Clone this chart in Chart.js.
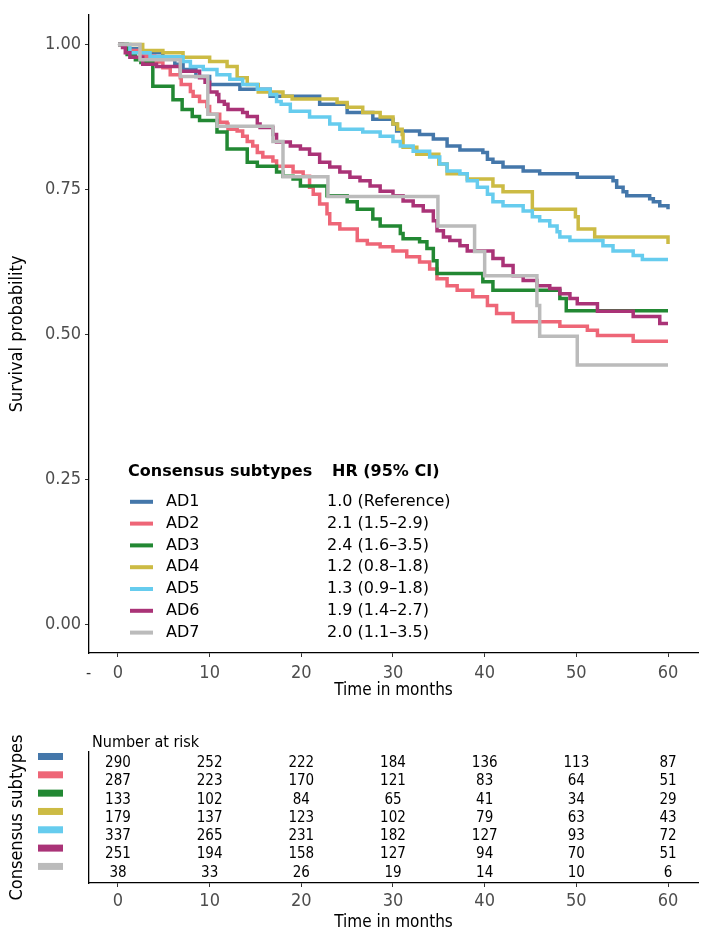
<!DOCTYPE html>
<html>
<head>
<meta charset="utf-8">
<script src="https://cdn.jsdelivr.net/npm/chart.js@4.4.1/dist/chart.umd.min.js"></script>
<style>
  html, body { margin: 0; padding: 0; background: #fff; }
  .box { position: absolute; left: 0; }
</style>
</head>
<body>
<div class="box" style="top:0"><canvas id="km" width="709" height="710"></canvas></div>
<div class="box" style="top:710px"><canvas id="risk" width="709" height="235"></canvas></div>
<script>
// groups and legend text
const groups = ['AD1', 'AD2', 'AD3', 'AD4', 'AD5', 'AD6', 'AD7'];
const hazardRatios = ['1.0 (Reference)', '2.1 (1.5–2.9)', '2.4 (1.6–3.5)', '1.2 (0.8–1.8)',
                      '1.3 (0.9–1.8)', '1.9 (1.4–2.7)', '2.0 (1.1–3.5)'];
const timeTicks = [0, 10, 20, 30, 40, 50, 60];
const survTicks = [0, 0.25, 0.5, 0.75, 1];

// Kaplan-Meier curves (time of each drop, survival after it)
const ad1Time = [0, 1, 2.4, 4.9, 6.2, 7.1, 8.5, 10, 13.3, 16.6, 22, 25, 27.8, 30, 30.4, 32.9, 34.4, 35.9, 37.3, 39.8,
                 40.3, 40.9, 42, 44.2, 46, 50.1, 54, 54.4, 55.1, 55.5, 58, 58.4, 59.1, 60];
const ad1Surv = [1, 0.993, 0.986, 0.979, 0.966, 0.957, 0.945, 0.931, 0.923, 0.911, 0.897, 0.883, 0.871, 0.863, 0.851, 0.845, 0.837, 0.825, 0.818, 0.814,
                 0.802, 0.797, 0.789, 0.782, 0.777, 0.771, 0.765, 0.754, 0.746, 0.739, 0.734, 0.729, 0.722, 0.716];

const ad2Time = [0, 1, 2.5, 4, 4.9, 5.7, 6.8, 6.9, 7.9, 8.2, 8.9, 9.7, 10, 11.1, 11.9, 12, 13, 13.6, 14.1, 14.7,
                 15.2, 15.8, 16.9, 17.3, 19.1, 20.2, 20.9, 21.3, 22, 22.8, 23.1, 24.2, 26.1, 27.2, 28.6, 30, 31.5, 32.9, 34, 34.8,
                 35.9, 37, 38.7, 40.3, 41.3, 43.1, 48.2, 51.2, 52.3, 56.2, 60];
const ad2Surv = [1, 0.99, 0.98, 0.97, 0.96, 0.948, 0.943, 0.931, 0.919, 0.911, 0.902, 0.893, 0.88, 0.866, 0.863, 0.854, 0.851, 0.842, 0.833, 0.825,
                 0.814, 0.806, 0.799, 0.79, 0.78, 0.773, 0.754, 0.742, 0.725, 0.708, 0.691, 0.682, 0.662, 0.656, 0.651, 0.644, 0.634, 0.625, 0.613, 0.596,
                 0.584, 0.576, 0.565, 0.55, 0.536, 0.522, 0.514, 0.507, 0.498, 0.488, 0.488];

const ad3Time = [0, 1, 1.9, 2.5, 3.8, 6, 7, 8.1, 8.9, 10.8, 11.9, 14.1, 15.2, 17.3, 18, 19.1, 19.9, 22.8, 25, 26.1,
                 27.8, 28.6, 30.8, 31.1, 32.9, 33.7, 34.4, 34.8, 39.8, 40.9, 48.2, 48.9, 60];
const ad3Surv = [1, 0.983, 0.974, 0.969, 0.928, 0.905, 0.888, 0.876, 0.869, 0.849, 0.82, 0.797, 0.79, 0.78, 0.773, 0.768, 0.756, 0.739, 0.729, 0.716,
                 0.699, 0.687, 0.674, 0.665, 0.66, 0.648, 0.627, 0.605, 0.591, 0.576, 0.562, 0.541, 0.541];

const ad4Time = [0, 2.7, 4.9, 7.1, 10, 11.9, 13, 14.1, 15.3, 18, 19, 23.9, 25, 26.7, 28.6, 30, 30.5, 31, 31.1, 32.6,
                 35, 35.9, 38.1, 40.9, 42, 45.2, 49.9, 50.2, 52, 60];
const ad4Surv = [1, 0.99, 0.986, 0.978, 0.971, 0.962, 0.943, 0.931, 0.918, 0.911, 0.906, 0.9, 0.892, 0.883, 0.875, 0.863, 0.854, 0.845, 0.823, 0.811,
                 0.794, 0.777, 0.768, 0.756, 0.746, 0.716, 0.703, 0.682, 0.668, 0.656];

const ad5Time = [0, 1.3, 3.5, 7.1, 7.9, 9.3, 10.8, 12.2, 13.6, 15.2, 16.6, 17.3, 17.8, 18.8, 20.9, 23.1, 24.2, 26.7, 28.6, 30,
                 30.8, 32.2, 34, 35.1, 35.9, 37.3, 38.1, 39.2, 40.3, 40.9, 42, 44.2, 45.2, 46, 47.1, 47.9, 48.2, 49.3, 52.9, 54,
                 56.2, 57.2, 60];
const ad5Surv = [1, 0.986, 0.979, 0.971, 0.962, 0.957, 0.948, 0.94, 0.931, 0.923, 0.914, 0.902, 0.897, 0.885, 0.875, 0.863, 0.854, 0.849, 0.842, 0.833,
                 0.825, 0.816, 0.806, 0.794, 0.782, 0.777, 0.765, 0.754, 0.742, 0.729, 0.722, 0.713, 0.703, 0.696, 0.687, 0.677, 0.668, 0.662, 0.653, 0.644,
                 0.636, 0.629, 0.629];

const ad6Time = [0, 0.5, 0.8, 1.3, 2.7, 4.2, 6.8, 8.9, 9.5, 10, 10.8, 11, 11.6, 12, 13.6, 14.1, 15.2, 15.5, 16.9, 17.3,
                 18.8, 19.9, 20.9, 22, 23.1, 24.2, 25.3, 26.4, 27.5, 28.6, 30, 31.1, 32.2, 33.3, 34.4, 34.8, 35.5, 36.2, 37.3, 38.1,
                 40.9, 42, 43.1, 44.2, 45.7, 47.1, 48.2, 49.3, 50.1, 52.3, 56.2, 59.1, 60];
const ad6Surv = [1, 0.995, 0.986, 0.978, 0.966, 0.962, 0.954, 0.943, 0.935, 0.918, 0.914, 0.902, 0.897, 0.888, 0.883, 0.876, 0.863, 0.857, 0.845, 0.832,
                 0.825, 0.82, 0.811, 0.797, 0.789, 0.78, 0.771, 0.765, 0.756, 0.747, 0.739, 0.73, 0.722, 0.713, 0.696, 0.679, 0.668, 0.662, 0.653, 0.644,
                 0.631, 0.619, 0.601, 0.593, 0.584, 0.579, 0.57, 0.562, 0.553, 0.54, 0.531, 0.519, 0.519];

const ad7Time = [0, 2.4, 6.8, 9.8, 10.8, 16.9, 18, 22.9, 34.9, 38.9, 40, 45.7, 46, 50.1, 60];
const ad7Surv = [1, 0.974, 0.945, 0.88, 0.859, 0.833, 0.772, 0.738, 0.687, 0.643, 0.601, 0.55, 0.497, 0.447, 0.447];

// number at risk at 0, 10, ... 60 months
const risk1 = [290, 252, 222, 184, 136, 113, 87];
const risk2 = [287, 223, 170, 121, 83, 64, 51];
const risk3 = [133, 102, 84, 65, 41, 34, 29];
const risk4 = [179, 137, 123, 102, 79, 63, 43];
const risk5 = [337, 265, 231, 182, 127, 93, 72];
const risk6 = [251, 194, 158, 127, 94, 70, 51];
const risk7 = [38, 33, 26, 19, 14, 10, 6];

const colors = ['#4477AA', '#EE6677', '#228833', '#CCBB44', '#66CCEE', '#AA3377', '#BBBBBB'];
const FONT = "'DejaVu Sans Condensed', 'DejaVu Sans', sans-serif";
const LEGEND_FONT = "'DejaVu Sans', sans-serif";

const kmTimes = [ad1Time, ad2Time, ad3Time, ad4Time, ad5Time, ad6Time, ad7Time];
const kmSurv = [ad1Surv, ad2Surv, ad3Surv, ad4Surv, ad5Surv, ad6Surv, ad7Surv];
const riskRows = [risk1, risk2, risk3, risk4, risk5, risk6, risk7];

Chart.defaults.font.family = FONT;

// x range so that 0 lands at x=118 and 60 at x=668
const xMin = -3.16, xMax = 63.27;

function xAxis(height, tickPad, titleBottom) {
    return {
        type: 'linear', min: xMin, max: xMax,
        afterBuildTicks: s => { s.ticks = timeTicks.map(v => ({ value: v })); },
        afterFit: s => { s.height = height; },
        grid: { drawOnChartArea: false, drawTicks: true, tickLength: 4, tickColor: '#333', tickWidth: 1 },
        border: { display: true, color: '#000', width: 1.3 },
        ticks: { color: '#4d4d4d', font: { size: 18 }, padding: tickPad, maxRotation: 0, autoSkip: false },
        title: { display: true, text: 'Time in months', color: '#000', font: { size: 17 }, padding: { top: 0, bottom: titleBottom } }
    };
}

// legend with hazard ratios, drawn inside the plot
const kmLegend = {
    id: 'kmLegend',
    afterDraw(chart) {
        const { ctx, chartArea: a } = chart;
        ctx.save();
        ctx.textBaseline = 'middle';
        ctx.fillStyle = '#000';
        ctx.font = 'bold 16px ' + LEGEND_FONT;
        ctx.fillText('Consensus subtypes', a.left + 39, a.top + 457);
        ctx.fillText('HR (95% CI)', a.left + 243, a.top + 457);
        ctx.font = '16px ' + LEGEND_FONT;
        groups.forEach((g, i) => {
            const y = a.top + 487 + i * 21.8;
            ctx.fillStyle = colors[i];
            ctx.fillRect(a.left + 41, y - 2, 23, 4);
            ctx.fillStyle = '#000';
            ctx.fillText(g, a.left + 77, y);
            ctx.fillText(hazardRatios[i], a.left + 238, y);
        });
        // stray mark left of the x tick labels
        ctx.fillStyle = '#333';
        ctx.font = '16px ' + FONT;
        ctx.fillText('-', a.left - 3, a.bottom + 21);
        ctx.restore();
    }
};

new Chart(document.getElementById('km'), {
    type: 'line',
    data: {
        datasets: groups.map((g, i) => ({
            label: g,
            data: kmTimes[i].map((t, j) => ({ x: t, y: kmSurv[i][j] })),
            borderColor: colors[i],
            borderWidth: 3.5,
            pointRadius: 0,
            stepped: 'before',
            fill: false,
            order: groups.length - i
        }))
    },
    options: {
        responsive: false,
        animation: false,
        layout: { padding: { top: 10, right: 11, left: 0, bottom: 0 } },
        plugins: { legend: { display: false }, tooltip: { enabled: false } },
        scales: {
            x: xAxis(57, 6, 9),
            y: {
                type: 'linear', min: -0.0497, max: 1.0514,
                afterBuildTicks: s => { s.ticks = survTicks.map(v => ({ value: v })); },
                afterFit: s => { s.width = 89; },
                grid: { drawOnChartArea: false, drawTicks: true, tickLength: 4, tickColor: '#333', tickWidth: 1 },
                border: { display: true, color: '#000', width: 1.3 },
                ticks: { color: '#4d4d4d', font: { size: 18 }, padding: 4, callback: v => v.toFixed(2) },
                title: { display: true, text: 'Survival probability', color: '#000', font: { size: 18 }, padding: { top: 7, bottom: 0 } }
            }
        }
    },
    plugins: [kmLegend]
});

// numbers at risk, colour keys and table heading
const riskText = {
    id: 'riskText',
    afterDatasetsDraw(chart) {
        const { ctx, chartArea: a } = chart;
        const yScale = chart.scales.y;
        ctx.save();
        ctx.fillStyle = '#000';
        ctx.font = '16px ' + FONT;
        ctx.textBaseline = 'middle';
        ctx.fillText('Number at risk', a.left + 3, a.top - 9);
        ctx.font = '15px ' + FONT;
        ctx.textAlign = 'center';
        chart.data.datasets.forEach((ds, i) => {
            chart.getDatasetMeta(i).data.forEach((pt, j) => {
                ctx.fillText(String(riskRows[i][j]), pt.x, pt.y);
            });
            const y = yScale.getPixelForValue(i);
            ctx.fillStyle = colors[i];
            ctx.fillRect(a.left - 51, y - 10, 25, 7);
            ctx.fillStyle = '#000';
        });
        ctx.restore();
    }
};

new Chart(document.getElementById('risk'), {
    type: 'scatter',
    data: {
        datasets: groups.map((g, i) => ({
            label: g,
            data: timeTicks.map(t => ({ x: t, y: i })),
            pointRadius: 0,
            showLine: false
        }))
    },
    options: {
        responsive: false,
        animation: false,
        layout: { padding: { top: 42, right: 11, left: 0, bottom: 0 } },
        plugins: { legend: { display: false }, tooltip: { enabled: false } },
        scales: {
            x: xAxis(62, 4, 12),
            y: {
                type: 'linear', min: -0.6, max: 6.55, reverse: true,
                afterFit: s => { s.width = 89; },
                grid: { display: false },
                border: { display: true, color: '#000', width: 1.3 },
                ticks: { display: false },
                title: { display: true, text: 'Consensus subtypes', color: '#000', font: { size: 18 }, padding: { top: 7, bottom: 0 } }
            }
        }
    },
    plugins: [riskText]
});
</script>
</body>
</html>
